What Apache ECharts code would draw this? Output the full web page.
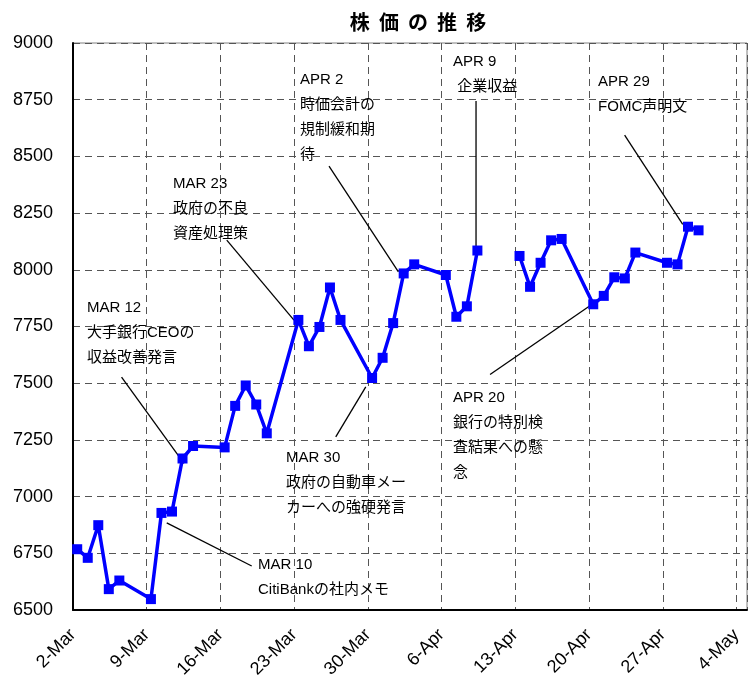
<!DOCTYPE html>
<html><head><meta charset="utf-8">
<script src="https://cdn.jsdelivr.net/npm/echarts@6/dist/echarts.min.js"></script>
<style>html,body{margin:0;padding:0;background:#fff}#c{width:749px;height:677px}</style>
</head><body><div id="c"></div>
<script>
// ---- data ----
const dates = [
  '2009-03-02','2009-03-03','2009-03-04','2009-03-05','2009-03-06',
  '2009-03-09','2009-03-10','2009-03-11','2009-03-12','2009-03-13',
  '2009-03-16','2009-03-17','2009-03-18','2009-03-19','2009-03-20',
  '2009-03-23','2009-03-24','2009-03-25','2009-03-26','2009-03-27',
  '2009-03-30','2009-03-31','2009-04-01','2009-04-02','2009-04-03',
  '2009-04-06','2009-04-07','2009-04-08','2009-04-09','2009-04-10',
  '2009-04-13','2009-04-14','2009-04-15','2009-04-16','2009-04-17',
  '2009-04-20','2009-04-21','2009-04-22','2009-04-23','2009-04-24',
  '2009-04-27','2009-04-28','2009-04-29','2009-04-30'
];
const values = [
  6768, 6730, 6874, 6592, 6630,
  6548, 6928, 6934, 7168, 7223,
  7217, 7400, 7490, 7406, 7279,
  7779, 7663, 7748, 7922, 7779,
  7523, 7612, 7765, 7984, 8024,
  7977, 7793, 7839, 8085, null,
  8061, 7925, 8031, 8130, 8136,
  7848, 7885, 7967, 7962, 8076,
  8031, 8024, 8190, 8174
];
const tickLabels = ['2-Mar','9-Mar','16-Mar','23-Mar','30-Mar','6-Apr','13-Apr','20-Apr','27-Apr','4-May'];
const yMin = 6500, yMax = 9000, yStep = 250;
const startDate = '2009-03-02';
const dayMax = 64;

// annotations: text, text anchor (day, value), leader line from / to (day, value)
const annTexts = [
  'MAR 10\nCitiBankの社内メモ',
  'MAR 12\n大手銀行CEOの\n収益改善発言',
  'MAR 23\n政府の不良\n資産処理策',
  'MAR 30\n政府の自動車メー\nカーへの強硬発言',
  'APR 2\n時価会計の\n規制緩和期\n待',
  'APR 9\n 企業収益',
  'APR 29\nFOMC声明文',
  'APR 20\n銀行の特別検\n査結果への懸\n念'
];
const annTextAt = [[17.57,6697],[1.33,7831],[9.50,8378],[20.23,7169],[21.56,8836],[36.09,8916],[49.86,8828],[36.09,7434]];
const annLineFrom = [[8.90,6884],[4.61,7527],[14.60,8131],[24.95,7263],[24.31,8457],[38.27,8744],[52.38,8594],[39.60,7538]];
const annLineTo = [[16.97,6694],[10.54,7147],[20.98,7778],[27.80,7484],[30.90,7991],[38.27,8100],[57.90,8200],[49.26,7847]];

// ---- build ----
const DAY = 86400000;
const POINT_OFFSET = 0.4;
const t0 = Date.parse(startDate + 'T00:00:00Z');
const seriesData = dates.map((d, i) => [ (Date.parse(d + 'T00:00:00Z') - t0) / DAY + POINT_OFFSET, values[i] ]);

const LATIN = '"Liberation Sans", Arial, "Noto Sans CJK JP", sans-serif';
const chart = echarts.init(document.getElementById('c'), null, {renderer: 'canvas'});
const option = {
  animation: false,
  backgroundColor: '#fff',
  title: {
    text: '株  価  の  推  移',
    left: 413, top: 7, textAlign: 'center',
    textStyle: {fontSize: 20, fontWeight: 'bold', color: '#000', fontFamily: '"Noto Sans CJK JP", sans-serif'}
  },
  grid: {left: 73, right: 2, top: 43, bottom: 67, show: true, borderColor: '#808080', borderWidth: 1,
         containLabel: false, outerBoundsMode: 'none'},
  xAxis: {
    type: 'value', min: 0, max: dayMax, interval: 7,
    axisLine: {show: true, onZero: false, lineStyle: {color: '#000', width: 2}},
    axisTick: {show: false},
    splitLine: {show: true, lineStyle: {color: '#555', width: 1, type: [7, 5]}},
    axisLabel: {
      rotate: 45, margin: 22, color: '#000', fontSize: 18, fontFamily: LATIN,
      formatter: v => (v % 7 === 0 && tickLabels[v / 7] !== undefined) ? tickLabels[v / 7] : ''
    }
  },
  yAxis: {
    type: 'value', min: yMin, max: yMax, interval: yStep,
    axisLine: {show: true, lineStyle: {color: '#000', width: 2}},
    axisTick: {show: false},
    splitLine: {show: true, lineStyle: {color: '#555', width: 1, type: [7, 5]}},
    axisLabel: {margin: 20, color: '#000', fontSize: 18, fontFamily: LATIN, formatter: v => String(v)}
  },
  series: [{
    type: 'line',
    data: seriesData,
    connectNulls: false,
    symbol: 'rect', symbolSize: 10, showAllSymbol: true,
    lineStyle: {color: '#0000ff', width: 3.5},
    itemStyle: {color: '#0000ff'},
    z: 3
  }]
};
chart.setOption(option);

const LH = 25;
const graphics = [];
annTexts.forEach((txt, i) => {
  const p = chart.convertToPixel({gridIndex: 0}, annTextAt[i]);
  const a = chart.convertToPixel({gridIndex: 0}, annLineFrom[i]);
  const b = chart.convertToPixel({gridIndex: 0}, annLineTo[i]);
  graphics.push({
    type: 'line', z: 2,
    shape: {x1: a[0], y1: a[1], x2: b[0], y2: b[1]},
    style: {stroke: '#000', lineWidth: 1.3}
  });
  graphics.push({
    type: 'text', z: 4,
    style: {
      text: txt, x: p[0], y: p[1] - LH / 2,
      fill: '#000', font: '15px ' + LATIN,
      textAlign: 'left', textVerticalAlign: 'top', lineHeight: LH
    }
  });
});
chart.setOption({graphic: graphics});
</script>
</body></html>
